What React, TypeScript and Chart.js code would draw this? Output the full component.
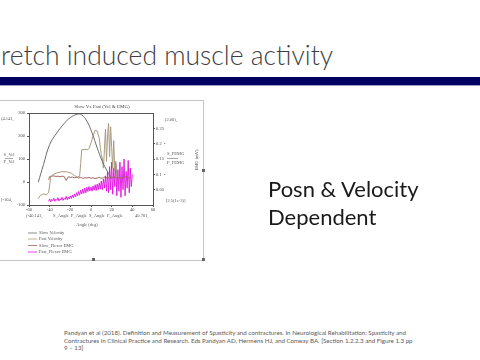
import React, { useEffect, useRef } from 'react';
import { Chart, registerables } from 'chart.js';

Chart.register(...registerables);

// ---------- data ----------
const CHART_TITLE = 'Slow Vs Fast (Vel & EMG)';
const X_TICKS = [-60, -40, -20, 0, 20, 40, 60];
const LEFT_TICKS = [-100, 0, 100, 200, 300];
const RIGHT_TICKS = [0.05, 0.1, 0.15, 0.2, 0.25];
const SERIES_LABELS = ['Slow Velocity', 'Fast Velocity', 'Slow_Flexor EMG', 'Fast_Flexor EMG'];

const slowVelAngle = [-51, -46, -40, -33, -26, -20, -13, -9, -4, 1, 6, 11, 16, 20];
const slowVelValue = [0, 75, 163, 214, 254, 280, 295, 292, 265, 214, 148, 89, 45, 15];

const fastVelAngle = [-51, -49, -46, -43, -41, -39, -37, -33, -28, -23, -19, -16, -13, -11, -10, -9, -6, -3, -2, 0, 2, 4, 6, 8, 9, 10, 11, 12, 13, 14, 15, 16, 17, 18, 19, 20, 21, 22, 23, 24, 25];
const fastVelValue = [-72, -58, -52, -56, -45, 20, 32, 40, 45, 44, 38, 28, 22, 25, 80, 140, 142, 140, 145, 170, 200, 225, 222, 190, 150, 120, 100, 60, 140, 230, 90, 200, 255, 110, 240, 150, 60, 180, 50, 90, 20];

const slowEmgAngle = [-41, -40, -38, -36, -34, -32, -30, -28, -26, -24, -22, -20, -18, -16, -14, -12, -10, -8, -6, -4, -2, 0, 2, 4, 6, 8, 10, 12, 14, 16, 18, 20, 22, 24, 26, 28, 30, 32, 34, 36, 38];
const slowEmgValue = [0.082, 0.093, 0.094, 0.095, 0.093, 0.094, 0.092, 0.094, 0.093, 0.08, 0.092, 0.09, 0.091, 0.089, 0.09, 0.088, 0.09, 0.087, 0.089, 0.088, 0.09, 0.087, 0.089, 0.086, 0.088, 0.09, 0.087, 0.089, 0.093, 0.085, 0.092, 0.086, 0.094, 0.088, 0.091, 0.086, 0.092, 0.088, 0.094, 0.087, 0.091];

const fastEmgAngle = [-41, -40, -39, -38, -37, -36, -35, -34, -33, -32, -31, -30, -29, -28, -27, -26, -25, -24, -23, -22, -21, -20, -19, -18, -17, -16, -15, -14, -13, -12, -11, -10, -9, -8, -7, -6, -5, -4, -3, -2, -1, 0, 1, 2, 3, 4, 5, 6, 7, 8, 9, 10, 11, 12, 13, 14, 15, 16, 17, 18, 19, 20, 21, 22, 23, 24, 25, 26, 27, 28, 29, 30, 31, 32, 33, 34, 35, 36, 37, 38, 39, 40];
const fastEmgValue = [0.012, 0.02, 0.01, 0.018, 0.014, 0.022, 0.012, 0.019, 0.015, 0.024, 0.013, 0.02, 0.016, 0.025, 0.015, 0.022, 0.018, 0.028, 0.017, 0.026, 0.02, 0.03, 0.021, 0.032, 0.024, 0.036, 0.026, 0.04, 0.03, 0.044, 0.032, 0.048, 0.036, 0.052, 0.038, 0.055, 0.04, 0.058, 0.044, 0.06, 0.046, 0.058, 0.045, 0.062, 0.048, 0.066, 0.047, 0.068, 0.05, 0.072, 0.052, 0.078, 0.05, 0.085, 0.055, 0.095, 0.045, 0.11, 0.04, 0.125, 0.05, 0.14, 0.035, 0.12, 0.06, 0.135, 0.03, 0.115, 0.045, 0.14, 0.025, 0.125, 0.05, 0.15, 0.03, 0.11, 0.055, 0.145, 0.04, 0.12, 0.06, 0.1];

const SERIES_COLORS = ['#6c6c6c', '#a99b80', '#a2655c', '#e010e0'];

// ---------- helpers ----------
const pts = (xs: number[], ys: number[]) => xs.map((x, i) => ({ x, y: ys[i] }));
const SERIF = '"Liberation Serif", serif';
const SANS = 'Lato, "Open Sans", sans-serif';

const annotPlugin = {
  id: 'annot',
  afterDraw(chart: any) {
    const ctx = chart.ctx as CanvasRenderingContext2D;
    const a = chart.chartArea;
    ctx.save();
    // top border of the axes box
    ctx.strokeStyle = '#555';
    ctx.lineWidth = 1;
    ctx.beginPath();
    ctx.moveTo(a.left, a.top + 0.5);
    ctx.lineTo(a.right, a.top + 0.5);
    ctx.stroke();

    ctx.fillStyle = '#555';
    ctx.font = `4.5px ${SERIF}`;
    ctx.textBaseline = 'middle';
    // left side labels
    ctx.textAlign = 'left';
    ctx.fillText('(4.141,', 1, 19);
    ctx.fillText('[-104,', 1, 100);
    ctx.textAlign = 'center';
    ctx.fillText('S_Vel', 9, 55);
    ctx.fillText('F_Vel', 9, 61.5);
    ctx.beginPath();
    ctx.moveTo(5, 58.5); ctx.lineTo(13, 58.5);
    ctx.lineWidth = 0.5; ctx.stroke();

    // right side labels
    ctx.textAlign = 'left';
    ctx.fillText('(2.00),', 165, 20);
    ctx.fillText('•', 164, 44);
    ctx.fillText('•', 164, 75);
    ctx.fillText('S_FEMG', 167, 54);
    ctx.fillText('F_FEMG', 167, 63);
    ctx.beginPath();
    ctx.moveTo(167, 58.5); ctx.lineTo(178, 58.5); ctx.stroke();
    ctx.fillText('[2.5(1e-3)]', 166, 101);
    ctx.save();
    ctx.translate(197, 60);
    ctx.rotate(-Math.PI / 2);
    ctx.textAlign = 'center';
    ctx.fillText('EMG (mV)', 0, 0);
    ctx.restore();

    // below x axis
    ctx.textAlign = 'left';
    ctx.fillText('(-40.141,', 26, 116);
    ctx.fillText('S_Angle  F_Angle  S_Angle  F_Angle', 53, 116);
    ctx.fillText('40.701,', 135, 116);
    ctx.textAlign = 'center';
    ctx.fillText('Angle (deg)', 87, 125);

    // legend
    ctx.textAlign = 'left';
    const rows = [133, 139, 145.5, 152];
    chart.data.datasets.forEach((ds: any, i: number) => {
      const y = rows[i];
      ctx.strokeStyle = ds.borderColor;
      ctx.lineWidth = 0.8;
      ctx.beginPath();
      ctx.moveTo(28, y); ctx.lineTo(37, y);
      ctx.stroke();
      ctx.fillStyle = '#555';
      ctx.fillText(ds.label, 39, y);
    });
    ctx.restore();
  },
};

function ChartBox() {
  const ref = useRef<HTMLCanvasElement | null>(null);
  useEffect(() => {
    if (!ref.current) return;
    const tickFont = { size: 4.5, family: SERIF };
    const chart = new Chart(ref.current, {
      type: 'line',
      data: {
        datasets: [
          { label: SERIES_LABELS[0], data: pts(slowVelAngle, slowVelValue), borderColor: SERIES_COLORS[0], borderWidth: 1, pointRadius: 0, tension: 0.4, yAxisID: 'y' },
          { label: SERIES_LABELS[1], data: pts(fastVelAngle, fastVelValue), borderColor: SERIES_COLORS[1], borderWidth: 1, pointRadius: 0, tension: 0, yAxisID: 'y' },
          { label: SERIES_LABELS[2], data: pts(slowEmgAngle, slowEmgValue), borderColor: SERIES_COLORS[2], borderWidth: 1, pointRadius: 0, tension: 0, yAxisID: 'y1' },
          { label: SERIES_LABELS[3], data: pts(fastEmgAngle, fastEmgValue), borderColor: SERIES_COLORS[3], borderWidth: 0.9, pointRadius: 0, tension: 0, yAxisID: 'y1' },
        ],
      },
      options: {
        animation: false,
        responsive: false,
        devicePixelRatio: 1,
        events: [],
        layout: { padding: 0 },
        plugins: {
          legend: { display: false },
          tooltip: { enabled: false },
          title: { display: true, text: CHART_TITLE, color: '#444', font: { size: 5, family: SERIF, weight: 'normal' }, padding: { top: 4, bottom: 3 } },
        },
        scales: {
          x: {
            type: 'linear', min: -60, max: 60,
            afterBuildTicks: (s: any) => { s.ticks = X_TICKS.map((v) => ({ value: v })); },
            ticks: { font: tickFont, color: '#444', padding: 0, maxRotation: 0 },
            grid: { drawOnChartArea: false, tickLength: 2, color: '#555' },
            border: { color: '#555' },
            afterFit: (s: any) => { s.height = 55; },
          },
          y: {
            position: 'left', min: -100, max: 300,
            afterBuildTicks: (s: any) => { s.ticks = LEFT_TICKS.map((v) => ({ value: v })); },
            ticks: { font: tickFont, color: '#444', padding: 2 },
            grid: { drawOnChartArea: false, tickLength: 2, color: '#555' },
            border: { color: '#555' },
            afterFit: (s: any) => { s.width = 29; },
          },
          y1: {
            position: 'right', min: 0, max: 0.3,
            afterBuildTicks: (s: any) => { s.ticks = RIGHT_TICKS.map((v) => ({ value: v })); },
            ticks: { font: tickFont, color: '#444', padding: 1, callback: (v: any) => String(Math.round(Number(v) * 100) / 100) },
            grid: { drawOnChartArea: false, tickLength: 2, color: '#555' },
            border: { color: '#555' },
            afterFit: (s: any) => { s.width = 51; },
          },
        },
      } as any,
      plugins: [annotPlugin],
    });
    return () => chart.destroy();
  }, []);
  return <canvas ref={ref} width={204} height={160} style={{ position: 'absolute', left: 0, top: 0, width: 204, height: 160 }} />;
}

const handle = (left: number, top: number) => (
  <div style={{ position: 'absolute', left, top, width: 3, height: 3, background: '#666' }} />
);

export default function App() {
  return (
    <div style={{ position: 'fixed', left: 0, top: 0, width: 480, height: 360, background: '#fff', overflow: 'hidden', fontFamily: SANS }}>
      <div style={{ position: 'absolute', left: 1, top: 41.5, fontSize: 26.5, lineHeight: '26.5px', color: '#3f3f3f', whiteSpace: 'nowrap', fontWeight: 300 }}>
        retch induced muscle activity
      </div>
      <div style={{ position: 'absolute', left: 0, top: 77, width: 480, height: 8, background: '#000060' }} />
      <div style={{ position: 'absolute', left: 0, top: 85, width: 480, height: 1, background: '#9a9ac4' }} />

      <div style={{ position: 'absolute', left: -2, top: 100, width: 205, height: 159, borderTop: '1.5px solid #c4c4c4', borderRight: '1.5px solid #c4c4c4', borderBottom: '1.5px solid #c4c4c4' }} />
      <div style={{ position: 'absolute', left: 0, top: 100, width: 204, height: 160 }}>
        <ChartBox />
      </div>
      {handle(202, 169)}
      {handle(92, 258)}
      {handle(202, 258)}

      <div style={{ position: 'absolute', left: 268, top: 174.5, fontSize: 22, lineHeight: '28px', color: '#1a1a1a', whiteSpace: 'nowrap' }}>
        Posn &amp; Velocity<br />Dependent
      </div>

      <div style={{ position: 'absolute', left: 64, top: 329, fontSize: 6.2, lineHeight: '7.7px', color: '#5a5a5a', whiteSpace: 'nowrap' }}>
        Pandyan et al (2018). Definition and Measurement of Spasticity and contractures. In Neurological Rehabilitation: Spasticity and<br />
        Contractures in Clinical Practice and Research. Eds Pandyan AD, Hermens HJ, and Conway BA. [Section 1.2.2.3 and Figure 1.3 pp<br />
        9 – 13]
      </div>
    </div>
  );
}
